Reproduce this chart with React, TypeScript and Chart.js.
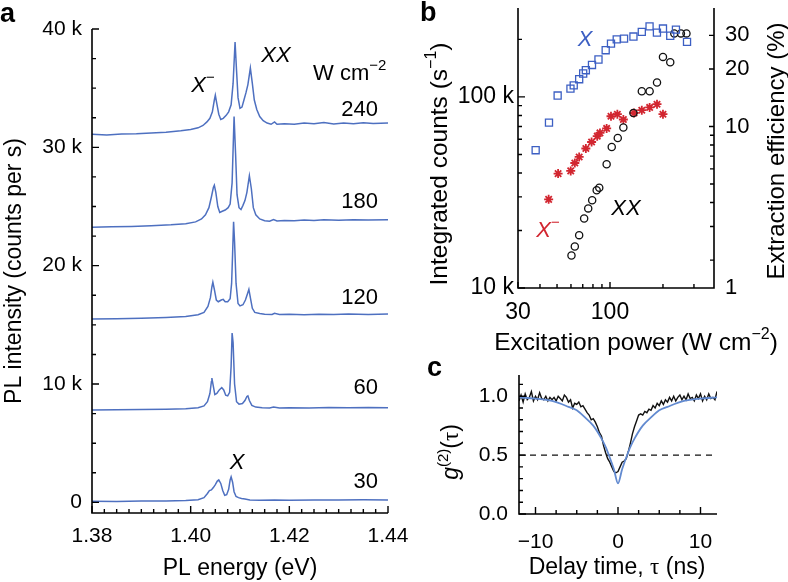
import React, { useEffect, useRef } from 'react';
import { Chart, registerables } from 'chart.js';

Chart.register(...registerables);

const W = 788;
const H = 582;
const SANS = '"Liberation Sans", Arial, Helvetica, sans-serif';
const SERIF = '"Liberation Serif", "Times New Roman", serif';

const BLUE = 'rgb(78,112,192)';
const SQ_BLUE = 'rgb(60,95,195)';
const RED = 'rgb(210,38,48)';
const FIT_BLUE = 'rgb(98,138,208)';

// ---------------- Panel a: PL spectra (eV, k counts per s)
const energy240 = [1.38, 1.383, 1.386, 1.389, 1.392, 1.395, 1.398, 1.4, 1.4015, 1.4025, 1.4033, 1.4039, 1.4044, 1.4048, 1.405, 1.4053, 1.4057, 1.4061, 1.4066, 1.4072, 1.4077, 1.4082, 1.4086, 1.409, 1.4093, 1.4096, 1.41, 1.4104, 1.4108, 1.4112, 1.4116, 1.4121, 1.4125, 1.4129, 1.4134, 1.414, 1.4147, 1.4155, 1.4163, 1.417, 1.4175, 1.419, 1.421, 1.423, 1.425, 1.427, 1.429, 1.431, 1.433, 1.435, 1.437, 1.44];
const intensity240 = [31.1, 31.05, 31.12, 31.15, 31.22, 31.28, 31.4, 31.5, 31.65, 31.85, 32.15, 32.45, 33.0, 34.0, 34.4, 33.7, 32.8, 32.35, 32.45, 32.7, 33.0, 33.6, 35.4, 38.9, 36.5, 34.2, 33.3, 33.4, 34.0, 34.6, 35.3, 36.7, 35.4, 34.0, 33.2, 32.6, 32.25, 32.05, 31.95, 32.15, 31.95, 32.0, 31.95, 32.05, 32.0, 32.1, 31.98, 32.05, 32.0, 32.08, 32.02, 32.05];

const energy180 = [1.38, 1.384, 1.388, 1.392, 1.396, 1.399, 1.401, 1.4022, 1.403, 1.4037, 1.4042, 1.4046, 1.4048, 1.4051, 1.4055, 1.4059, 1.4064, 1.407, 1.4076, 1.408, 1.4084, 1.4088, 1.4091, 1.4094, 1.4098, 1.4102, 1.4106, 1.411, 1.4114, 1.4119, 1.4123, 1.4127, 1.4132, 1.414, 1.415, 1.416, 1.4168, 1.4175, 1.419, 1.421, 1.423, 1.425, 1.427, 1.43, 1.433, 1.436, 1.44];
const intensity180 = [23.25, 23.28, 23.32, 23.38, 23.45, 23.55, 23.7, 23.95, 24.3, 24.9, 25.8, 26.6, 26.8, 26.2, 25.0, 24.5, 24.6, 24.7, 24.9, 25.2, 27.0, 32.6, 29.5, 26.0, 24.9, 24.75, 25.1, 25.5, 26.2, 27.6, 26.5, 24.9, 24.3, 23.95, 23.8, 23.75, 23.9, 23.78, 23.82, 23.8, 23.86, 23.82, 23.88, 23.84, 23.88, 23.85, 23.88];

const energy120 = [1.38, 1.385, 1.39, 1.395, 1.399, 1.4015, 1.4027, 1.4035, 1.404, 1.4043, 1.4045, 1.4048, 1.4052, 1.4056, 1.4062, 1.4066, 1.407, 1.4075, 1.408, 1.4083, 1.4085, 1.4087, 1.4089, 1.4092, 1.4096, 1.41, 1.4106, 1.4111, 1.4115, 1.4118, 1.4121, 1.4125, 1.413, 1.414, 1.415, 1.4165, 1.417, 1.418, 1.42, 1.423, 1.426, 1.429, 1.432, 1.436, 1.44];
const intensity120 = [15.5, 15.52, 15.56, 15.62, 15.7, 15.85, 16.05, 16.55, 17.3, 18.2, 18.6, 18.0, 17.1, 16.95, 17.1, 17.15, 16.95, 16.95, 17.2, 18.5, 21.0, 23.7, 22.0, 18.5, 16.8, 16.6, 16.7, 17.1, 17.6, 18.0, 17.3, 16.4, 16.05, 15.95, 15.9, 15.88, 15.98, 15.88, 15.9, 15.86, 15.9, 15.87, 15.91, 15.88, 15.92];

const energy60 = [1.38, 1.385, 1.39, 1.395, 1.399, 1.4015, 1.4027, 1.4034, 1.4039, 1.4042, 1.4043, 1.4046, 1.4049, 1.4053, 1.4058, 1.4063, 1.4067, 1.4071, 1.4075, 1.4079, 1.4082, 1.4084, 1.4086, 1.4089, 1.4093, 1.4098, 1.4105, 1.411, 1.4114, 1.4116, 1.4119, 1.4124, 1.4132, 1.4145, 1.416, 1.4168, 1.418, 1.42, 1.424, 1.428, 1.432, 1.436, 1.44];
const intensity60 = [7.8, 7.82, 7.84, 7.86, 7.9, 8.0, 8.15, 8.5, 9.2, 10.2, 10.5, 9.8, 9.1, 9.2, 9.5, 9.7, 9.5, 9.05, 9.0, 9.3, 11.5, 14.3, 13.5, 10.0, 8.5, 8.3, 8.35, 8.6, 8.95, 9.0, 8.6, 8.2, 8.05, 8.0, 7.98, 8.05, 7.98, 8.0, 7.98, 8.02, 7.99, 8.02, 8.0];

const energy30 = [1.38, 1.385, 1.39, 1.395, 1.399, 1.4015, 1.4027, 1.4034, 1.4038, 1.4042, 1.4046, 1.405, 1.4054, 1.4057, 1.4061, 1.4065, 1.4069, 1.4073, 1.4077, 1.408, 1.4082, 1.4085, 1.4088, 1.4092, 1.4097, 1.4103, 1.411, 1.412, 1.414, 1.417, 1.42, 1.425, 1.43, 1.435, 1.44];
const intensity30 = [0.1, 0.08, 0.12, 0.12, 0.15, 0.22, 0.4, 0.75, 1.0, 1.05, 1.25, 1.5, 1.8, 1.9, 1.6, 1.0, 0.6, 0.65, 1.1, 1.9, 2.15, 1.7, 0.9, 0.5, 0.4, 0.32, 0.28, 0.2, 0.18, 0.2, 0.18, 0.2, 0.19, 0.21, 0.2];

const powerLabels = ['240', '180', '120', '60', '30'];

const aXMajor = [1.38, 1.4, 1.42, 1.44];
const aXLabels = ['1.38', '1.40', '1.42', '1.44'];
const aXMinor = [1.3825, 1.385, 1.3875, 1.39, 1.3925, 1.395, 1.3975, 1.4025, 1.405, 1.4075, 1.41, 1.4125, 1.415, 1.4175, 1.4225, 1.425, 1.4275, 1.43, 1.4325, 1.435, 1.4375];
const aYMajor = [0, 10, 20, 30, 40];
const aYLabels = ['0', '10 k', '20 k', '30 k', '40 k'];
const aYMinor = [2.5, 5, 7.5, 12.5, 15, 17.5, 22.5, 25, 27.5, 32.5, 35, 37.5];

// ---------------- Panel b: integrated counts (k s^-1) vs excitation power (W cm^-2)
const powerX = [37.8, 45.0, 50.4, 59.6, 62.2, 66.8, 70.4, 72.9, 79, 86, 94.5, 101.3, 109.2, 120.2, 135.9, 151.6, 167.8, 184.8, 200, 220, 237, 274];
const countsX = [52.6, 73.4, 101.7, 110.6, 115, 123.8, 132.6, 138, 147, 157, 175.6, 190, 200, 202, 207, 219, 234, 217, 228, 209, 225, 194];
const powerXminus = [44.8, 50.7, 59.8, 63.1, 66.8, 72.9, 78.6, 84.6, 87.7, 95.7, 101.3, 110.1, 119.1, 137, 151.6, 168, 185, 200];
const countsXminus = [29.1, 39.7, 41, 45.1, 48.5, 53.7, 58.1, 62.3, 64.8, 68.4, 79.2, 81.2, 76.2, 82.4, 85.2, 88.1, 91.6, 81.2];
const powerXX = [60.4, 63.1, 66.8, 71.3, 75.2, 79.2, 84, 86.9, 95.7, 102.3, 110.7, 119.1, 135.9, 151.6, 168, 185, 200, 220, 232, 253, 272];
const countsXX = [14.8, 16.5, 18.9, 23.1, 26.1, 28.8, 32.5, 33.5, 44.4, 54.7, 61, 69.2, 82.4, 107, 107, 119, 162, 152, 215, 215, 215];

const bXMajor = [30, 100];
const bXLabels = ['30', '100'];
const bXMinor = [40, 50, 60, 70, 80, 90, 200, 300];
const bYMajor = [10, 100];
const bYLabels = ['10 k', '100 k'];
const bYMinor = [20, 30, 40, 50, 60, 70, 80, 90, 200];
const bRMajor = [10, 20, 30];
const bRLabels = ['10', '20', '30'];
const bRMinor = [2, 3, 4, 5, 6, 7, 8, 9];
const bRBottomLabel = '1';

// ---------------- Panel c: g2(tau)
const delay = [-12, -11.75, -11.5, -11.25, -11, -10.75, -10.5, -10.25, -10, -9.75, -9.5, -9.25, -9, -8.75, -8.5, -8.25, -8, -7.75, -7.5, -7.25, -7, -6.75, -6.5, -6.25, -6, -5.75, -5.5, -5.25, -5, -4.75, -4.5, -4.25, -4, -3.75, -3.5, -3.25, -3, -2.75, -2.5, -2.25, -2, -1.75, -1.5, -1.25, -1, -0.75, -0.5, -0.25, 0, 0.25, 0.5, 0.75, 1, 1.25, 1.5, 1.75, 2, 2.25, 2.5, 2.75, 3, 3.25, 3.5, 3.75, 4, 4.25, 4.5, 4.75, 5, 5.25, 5.5, 5.75, 6, 6.25, 6.5, 6.75, 7, 7.25, 7.5, 7.75, 8, 8.25, 8.5, 8.75, 9, 9.25, 9.5, 9.75, 10, 10.25, 10.5, 10.75, 11, 11.25, 11.5, 11.75, 12];
const g2 = [0.96, 1.01, 0.95, 1.02, 0.97, 0.99, 1.04, 0.96, 1.0, 0.97, 1.03, 0.98, 0.97, 1.0, 0.96, 0.99, 0.97, 0.99, 0.96, 1.0, 0.98, 0.96, 1.01, 0.99, 0.95, 0.97, 0.9, 0.94, 0.93, 0.95, 0.91, 0.92, 0.89, 0.86, 0.84, 0.8, 0.81, 0.78, 0.74, 0.69, 0.66, 0.58, 0.52, 0.47, 0.44, 0.4, 0.36, 0.35, 0.36, 0.4, 0.44, 0.45, 0.47, 0.53, 0.6, 0.68, 0.74, 0.79, 0.84, 0.85, 0.84, 0.87, 0.86, 0.89, 0.88, 0.92, 0.9, 0.94, 0.92, 0.96, 0.93, 0.97, 0.95, 0.99, 0.96, 1.0, 0.96, 0.99, 1.01, 0.97, 1.0, 0.97, 1.02, 0.98, 0.99, 0.96, 1.01, 0.98, 1.02, 0.96, 1.0, 0.97, 1.02, 0.98, 0.99, 0.97, 1.04];
const fitDelay = [-12, -10, -8, -6, -5, -4, -3, -2, -1.5, -1, -0.5, 0, 0.5, 1, 1.5, 2, 3, 4, 5, 6, 8, 10, 12];
const g2fit = [0.99, 0.98, 0.96, 0.91, 0.88, 0.82, 0.75, 0.64, 0.57, 0.48, 0.38, 0.26, 0.38, 0.48, 0.57, 0.64, 0.75, 0.82, 0.88, 0.91, 0.96, 0.98, 0.99];
const refDelay = [-12, 12];
const refLevel = [0.5, 0.5];

const cXMajor = [-10, 0, 10];
const cXLabels = ['\u221210', '0', '10'];
const cXMinor = [-7.5, -5, -2.5, 2.5, 5, 7.5];
const cYMajor = [0, 0.5, 1.0];
const cYLabels = ['0.0', '0.5', '1.0'];
const cYMinor = [0.1, 0.2, 0.3, 0.4, 0.6, 0.7, 0.8, 0.9, 1.1];

// ---------------- helpers
type Run = { t: string; it?: boolean; sup?: boolean; serif?: boolean; bold?: boolean; color?: string };

function runFont(r: Run, size: number) {
  const s = r.sup ? Math.round(size * 0.66) : size;
  return `${r.it ? 'italic ' : ''}${r.bold ? 'bold ' : ''}${s}px ${r.serif ? SERIF : SANS}`;
}

function drawRuns(ctx: CanvasRenderingContext2D, runs: Run[], x: number, y: number, size: number, align: 'left' | 'center' | 'right', color = '#000', rot = 0) {
  ctx.save();
  ctx.translate(x, y);
  if (rot) ctx.rotate(rot);
  ctx.textBaseline = 'middle';
  ctx.textAlign = 'left';
  let total = 0;
  const widths: number[] = [];
  runs.forEach((r) => {
    ctx.font = runFont(r, size);
    const w = ctx.measureText(r.t).width;
    widths.push(w);
    total += w;
  });
  let cx = align === 'left' ? 0 : align === 'center' ? -total / 2 : -total;
  runs.forEach((r, i) => {
    ctx.font = runFont(r, size);
    ctx.fillStyle = r.color || color;
    ctx.fillText(r.t, cx, r.sup ? -size * 0.36 : 0);
    cx += widths[i];
  });
  ctx.restore();
}

function drawTicks(chart: any, id: string, side: 'left' | 'right' | 'bottom', values: number[], len: number) {
  const ctx = chart.ctx as CanvasRenderingContext2D;
  const a = chart.chartArea;
  const s = chart.scales[id];
  ctx.beginPath();
  values.forEach((v) => {
    const p = s.getPixelForValue(v);
    if (side === 'left') {
      ctx.moveTo(a.left, p);
      ctx.lineTo(a.left + len, p);
    } else if (side === 'right') {
      ctx.moveTo(a.right, p);
      ctx.lineTo(a.right - len, p);
    } else {
      ctx.moveTo(p, a.bottom);
      ctx.lineTo(p, a.bottom - len);
    }
  });
  ctx.stroke();
}

function drawLabels(chart: any, id: string, side: 'left' | 'right' | 'bottom', values: number[], labels: string[], offset: number, size: number) {
  const ctx = chart.ctx as CanvasRenderingContext2D;
  const a = chart.chartArea;
  const s = chart.scales[id];
  ctx.save();
  ctx.font = `${size}px ${SANS}`;
  ctx.fillStyle = '#000';
  ctx.textBaseline = 'middle';
  values.forEach((v, i) => {
    const p = s.getPixelForValue(v);
    if (side === 'left') {
      ctx.textAlign = 'right';
      ctx.fillText(labels[i], a.left - offset, p);
    } else if (side === 'right') {
      ctx.textAlign = 'left';
      ctx.fillText(labels[i], a.right + offset, p);
    } else {
      ctx.textAlign = 'center';
      ctx.fillText(labels[i], p, a.bottom + offset);
    }
  });
  ctx.restore();
}

function pts(xs: number[], ys: number[]) {
  return xs.map((x, i) => ({ x, y: ys[i] }));
}

function pad(l: number, t: number, r: number, b: number) {
  return { left: l, top: t, right: W - r, bottom: H - b };
}

const baseOptions = {
  responsive: false,
  animation: false as const,
  events: [] as any[],
  plugins: { legend: { display: false }, tooltip: { enabled: false } },
};

// ---------------- chart configs
function panelA(): any {
  const series = [
    [energy240, intensity240],
    [energy180, intensity180],
    [energy120, intensity120],
    [energy60, intensity60],
    [energy30, intensity30],
  ];
  return {
    type: 'line',
    data: {
      datasets: series.map(([e, v]) => ({
        data: pts(e, v),
        borderColor: BLUE,
        borderWidth: 1.5,
        pointRadius: 0,
        fill: false,
        tension: 0,
      })),
    },
    options: {
      ...baseOptions,
      layout: { padding: pad(92, 29, 388, 513) },
      scales: {
        x: { type: 'linear', min: 1.38, max: 1.44, display: false },
        y: { type: 'linear', min: -0.9, max: 40, display: false },
      },
    },
    plugins: [
      {
        id: 'decorA',
        afterDraw(chart: any) {
          const ctx = chart.ctx as CanvasRenderingContext2D;
          const a = chart.chartArea;
          ctx.save();
          ctx.strokeStyle = '#000';
          ctx.lineWidth = 1.6;
          ctx.beginPath();
          ctx.moveTo(a.left, a.top);
          ctx.lineTo(a.left, a.bottom);
          ctx.lineTo(a.right, a.bottom);
          ctx.stroke();
          ctx.lineWidth = 1.4;
          drawTicks(chart, 'y', 'left', aYMajor, 7);
          drawTicks(chart, 'y', 'left', aYMinor, 4);
          drawTicks(chart, 'x', 'bottom', aXMajor, 7);
          drawTicks(chart, 'x', 'bottom', aXMinor, 4);
          drawLabels(chart, 'y', 'left', aYMajor, aYLabels, 10, 21);
          drawLabels(chart, 'x', 'bottom', aXMajor, aXLabels, 23, 21);
          drawRuns(ctx, [{ t: 'PL energy (eV)' }], (a.left + a.right) / 2, 569, 23, 'center');
          drawRuns(ctx, [{ t: 'PL intensity (counts per s)' }], 15, 271, 23, 'center', '#000', -Math.PI / 2);
          drawRuns(ctx, [{ t: 'a', bold: true }], 0, 15, 27, 'left');
          // annotations
          const pY = [110, 202, 298, 388, 482];
          powerLabels.forEach((l, i) => drawRuns(ctx, [{ t: l }], 378, pY[i], 22, 'right'));
          drawRuns(ctx, [{ t: 'W cm' }, { t: '\u22122', sup: true }], 313, 74, 22, 'left');
          drawRuns(ctx, [{ t: 'X', it: true }, { t: '\u2212', sup: true }], 203, 86, 22, 'center');
          drawRuns(ctx, [{ t: 'XX', it: true }], 276, 56, 22, 'center');
          drawRuns(ctx, [{ t: 'X', it: true }], 237, 463, 22, 'center');
          ctx.restore();
        },
      },
    ],
  };
}

function panelB(): any {
  return {
    type: 'scatter',
    data: {
      datasets: [
        {
          data: pts(powerX, countsX),
          pointStyle: 'rect',
          pointRadius: 5,
          borderColor: SQ_BLUE,
          backgroundColor: 'rgba(0,0,0,0)',
          borderWidth: 1.3,
        },
        {
          data: pts(powerXX, countsXX),
          pointStyle: 'circle',
          pointRadius: 3.6,
          borderColor: '#111',
          backgroundColor: 'rgba(0,0,0,0)',
          borderWidth: 1.3,
        },
        {
          data: pts(powerXminus, countsXminus),
          pointStyle: 'star',
          pointRadius: 4.5,
          borderColor: RED,
          backgroundColor: RED,
          borderWidth: 1.8,
        },
      ],
    },
    options: {
      ...baseOptions,
      layout: { padding: pad(518, 8, 714, 288) },
      scales: {
        x: { type: 'logarithmic', min: 30, max: 390, display: false },
        y: { type: 'logarithmic', min: 10, max: 292, display: false },
        y2: { type: 'logarithmic', min: 10 / 7, max: 292 / 7, display: false },
      },
    },
    plugins: [
      {
        id: 'decorB',
        afterDraw(chart: any) {
          const ctx = chart.ctx as CanvasRenderingContext2D;
          const a = chart.chartArea;
          ctx.save();
          ctx.strokeStyle = '#000';
          ctx.lineWidth = 1.6;
          ctx.beginPath();
          ctx.moveTo(a.left, a.top);
          ctx.lineTo(a.left, a.bottom);
          ctx.lineTo(a.right, a.bottom);
          ctx.lineTo(a.right, a.top);
          ctx.stroke();
          ctx.lineWidth = 1.4;
          drawTicks(chart, 'y', 'left', bYMajor, 7);
          drawTicks(chart, 'y', 'left', bYMinor, 4);
          drawTicks(chart, 'y2', 'right', bRMajor, 5);
          drawTicks(chart, 'y2', 'right', bRMinor, 4);
          drawTicks(chart, 'x', 'bottom', bXMajor, 6);
          drawTicks(chart, 'x', 'bottom', bXMinor, 4);
          drawLabels(chart, 'y', 'left', bYMajor, bYLabels, 4, 23);
          drawLabels(chart, 'y2', 'right', bRMajor, bRLabels, 11, 22);
          const y2 = chart.scales.y2;
          drawLabels(chart, 'y2', 'right', [y2.min], [bRBottomLabel], 11, 22);
          drawLabels(chart, 'x', 'bottom', bXMajor, bXLabels, 25, 23);
          drawRuns(ctx, [{ t: 'Excitation power (W cm' }, { t: '\u22122', sup: true }, { t: ')' }], 636, 343, 24.5, 'center');
          drawRuns(ctx, [{ t: 'Integrated counts (s' }, { t: '\u22121', sup: true }, { t: ')' }], 440, 164, 24.5, 'center', '#000', -Math.PI / 2);
          drawRuns(ctx, [{ t: 'Extraction efficiency (%)' }], 777, 151, 24, 'center', '#000', -Math.PI / 2);
          drawRuns(ctx, [{ t: 'b', bold: true }], 420, 14, 27, 'left');
          drawRuns(ctx, [{ t: 'X', it: true, color: SQ_BLUE }], 585, 40, 22, 'center');
          drawRuns(ctx, [{ t: 'X', it: true, color: RED }, { t: '\u2212', sup: true, color: RED }], 548, 231, 22, 'center');
          drawRuns(ctx, [{ t: 'XX', it: true }], 626, 209, 22, 'center');
          ctx.restore();
        },
      },
    ],
  };
}

function panelC(): any {
  return {
    type: 'line',
    data: {
      datasets: [
        {
          data: pts(fitDelay, g2fit),
          borderColor: FIT_BLUE,
          borderWidth: 1.8,
          pointRadius: 0,
          cubicInterpolationMode: 'monotone',
          fill: false,
        },
        {
          data: pts(delay, g2),
          borderColor: '#111',
          borderWidth: 1.4,
          pointRadius: 0,
          tension: 0,
          fill: false,
        },
        {
          data: pts(refDelay, refLevel),
          borderColor: '#111',
          borderWidth: 1.4,
          borderDash: [6, 5],
          pointRadius: 0,
          fill: false,
        },
      ],
    },
    options: {
      ...baseOptions,
      layout: { padding: pad(519, 375, 717, 514) },
      scales: {
        x: { type: 'linear', min: -12, max: 12, display: false },
        y: { type: 'linear', min: 0, max: 1.18, display: false },
      },
    },
    plugins: [
      {
        id: 'decorC',
        afterDraw(chart: any) {
          const ctx = chart.ctx as CanvasRenderingContext2D;
          const a = chart.chartArea;
          ctx.save();
          ctx.strokeStyle = '#000';
          ctx.lineWidth = 1.6;
          ctx.beginPath();
          ctx.moveTo(a.left, a.top);
          ctx.lineTo(a.left, a.bottom);
          ctx.lineTo(a.right, a.bottom);
          ctx.stroke();
          ctx.lineWidth = 1.4;
          drawTicks(chart, 'y', 'left', cYMajor, 7);
          drawTicks(chart, 'y', 'left', cYMinor, 4);
          drawTicks(chart, 'x', 'bottom', cXMajor, 7);
          drawTicks(chart, 'x', 'bottom', cXMinor, 4);
          drawLabels(chart, 'y', 'left', cYMajor, cYLabels, 11, 21);
          drawLabels(chart, 'x', 'bottom', cXMajor, cXLabels, 28, 21);
          drawRuns(ctx, [{ t: 'Delay time, ' }, { t: '\u03c4', serif: true }, { t: ' (ns)' }], 617, 568, 23, 'center');
          drawRuns(ctx, [{ t: 'g', it: true }, { t: '(2)', sup: true }, { t: '(' }, { t: '\u03c4', serif: true }, { t: ')' }], 452, 452, 23, 'center', '#000', -Math.PI / 2);
          drawRuns(ctx, [{ t: 'c', bold: true }], 427, 369, 27, 'left');
          ctx.restore();
        },
      },
    ],
  };
}

export default function App() {
  const refA = useRef<HTMLCanvasElement>(null);
  const refB = useRef<HTMLCanvasElement>(null);
  const refC = useRef<HTMLCanvasElement>(null);

  useEffect(() => {
    const charts: Chart[] = [];
    if (refA.current) charts.push(new Chart(refA.current, panelA()));
    if (refB.current) charts.push(new Chart(refB.current, panelB()));
    if (refC.current) charts.push(new Chart(refC.current, panelC()));
    return () => charts.forEach((c) => c.destroy());
  }, []);

  const cs: React.CSSProperties = { position: 'absolute', left: 0, top: 0, width: W, height: H };
  return (
    <div style={{ position: 'absolute', left: 0, top: 0, width: W, height: H, background: '#fff', overflow: 'hidden' }}>
      <canvas ref={refA} width={W} height={H} style={cs} />
      <canvas ref={refB} width={W} height={H} style={cs} />
      <canvas ref={refC} width={W} height={H} style={cs} />
    </div>
  );
}
